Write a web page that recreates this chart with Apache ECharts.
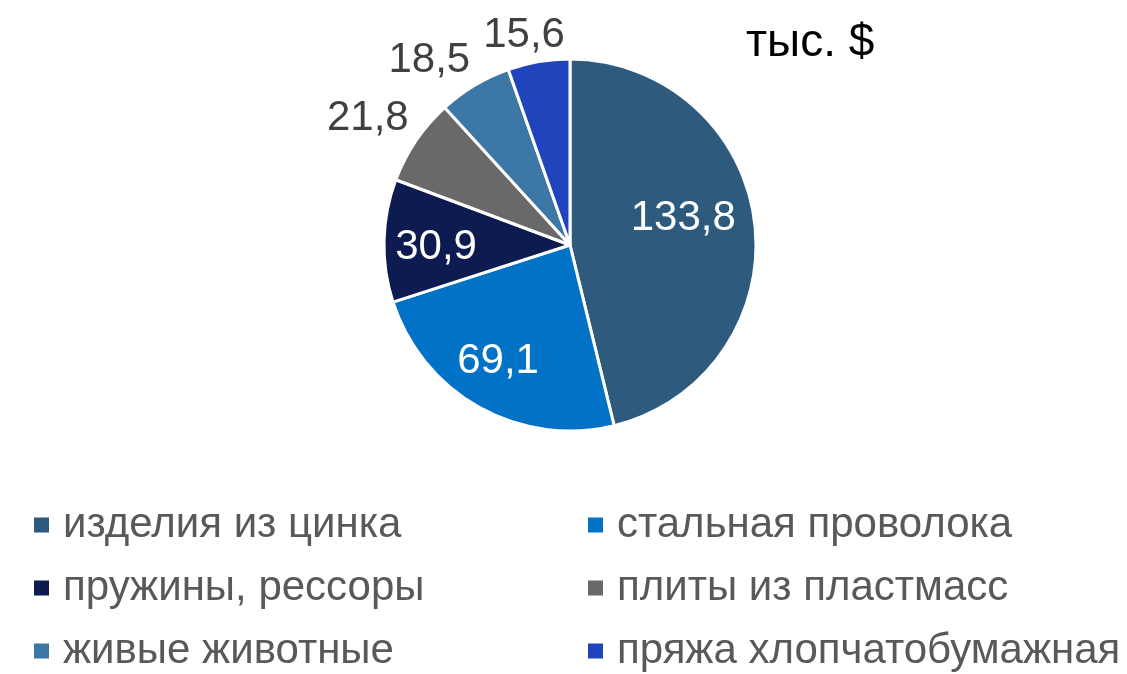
<!DOCTYPE html>
<html>
<head>
<meta charset="utf-8">
<script src="https://cdn.jsdelivr.net/npm/echarts@6/dist/echarts.min.js"></script>
<style>
  html, body { margin: 0; padding: 0; background: #fff; }
  #chart { width: 1127px; height: 674px; }
</style>
</head>
<body>
<div id="chart"></div>
<script>
const categories = [
  'изделия из цинка',
  'стальная проволока',
  'пружины, рессоры',
  'плиты из пластмасс',
  'живые животные',
  'пряжа хлопчатобумажная'
];
const values = [133.8, 69.1, 30.9, 21.8, 18.5, 15.6];
const colors = ['#2E5A7E', '#0172C6', '#0D1B50', '#696969', '#3D77A6', '#1F44BC'];

const center = [570, 245];
const radius = 186;
// label distance from center (share of radius) and small angle nudge (deg)
const labelDist = [0.63, 0.72, 0.72, 1.29, 1.26, 1.17];
const labelNudge = [-8, 3.3, -0.9, -1.5, -6, -2.5];
const labelColors = ['#fff', '#fff', '#fff', '#404040', '#404040', '#404040'];

const total = values.reduce((a, b) => a + b, 0);
let acc = 0;
const midAngles = values.map((v, i) => {
  const mid = (acc + v / 2) / total * Math.PI * 2 + labelNudge[i] * Math.PI / 180;
  acc += v;
  return mid;
});

const chart = echarts.init(document.getElementById('chart'));

const legendBase = {
  orient: 'vertical',
  top: 502,
  height: 200,
  padding: 0,
  icon: 'rect',
  itemWidth: 17,
  itemHeight: 17,
  itemGap: 17,
  selectedMode: false,
  textStyle: {
    fontFamily: 'Liberation Sans',
    fontSize: 42,
    lineHeight: 46,
    color: '#595959',
    padding: [0, 0, 0, 8]
  }
};

chart.setOption({
  animation: false,
  title: {
    text: 'тыс. $',
    left: 746,
    top: 20,
    padding: 0,
    textStyle: {
      fontFamily: 'Liberation Sans',
      fontSize: 46,
      fontWeight: 'normal',
      color: '#000'
    }
  },
  legend: [
    Object.assign({}, legendBase, { left: 32, data: [categories[0], categories[2], categories[4]] }),
    Object.assign({}, legendBase, { left: 586, data: [categories[1], categories[3], categories[5]] })
  ],
  series: [{
    type: 'pie',
    center: center,
    radius: radius,
    startAngle: 90,
    clockwise: true,
    itemStyle: { borderColor: '#fff', borderWidth: 3 },
    label: {
      show: true,
      position: 'inside',
      fontFamily: 'Liberation Sans',
      fontSize: 42,
      formatter: p => String(p.value).replace('.', ',')
    },
    labelLine: { show: false },
    labelLayout: p => {
      const i = p.dataIndex;
      const d = labelDist[i] * radius;
      return {
        x: center[0] + d * Math.sin(midAngles[i]),
        y: center[1] - d * Math.cos(midAngles[i]) + 3,
        align: 'center',
        verticalAlign: 'middle'
      };
    },
    emphasis: { disabled: true },
    data: categories.map((name, i) => ({
      name: name,
      value: values[i],
      itemStyle: { color: colors[i] },
      label: { color: labelColors[i] }
    }))
  }]
});
</script>
</body>
</html>
